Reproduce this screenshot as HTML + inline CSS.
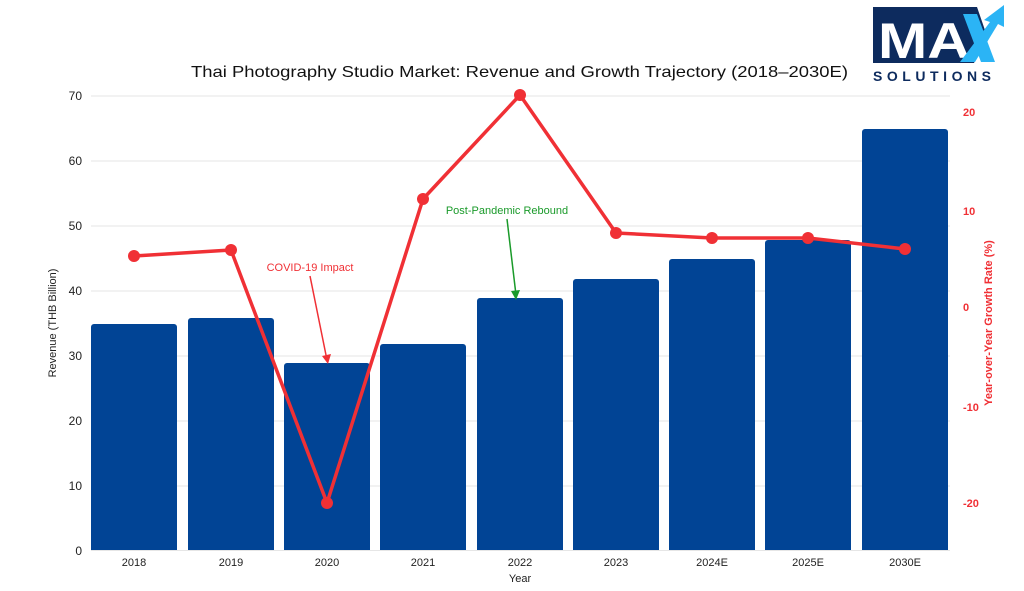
<!DOCTYPE html><html><head><meta charset="utf-8"><style>body{margin:0;background:#fff}svg{display:block}text{font-family:"Liberation Sans",sans-serif}</style></head><body>
<svg width="1024" height="591" viewBox="0 0 1024 591">
<g stroke="#e6e6e6" stroke-width="1">
<line x1="91" x2="950" y1="96" y2="96"/><line x1="91" x2="950" y1="161" y2="161"/><line x1="91" x2="950" y1="226" y2="226"/><line x1="91" x2="950" y1="291" y2="291"/><line x1="91" x2="950" y1="356" y2="356"/><line x1="91" x2="950" y1="421" y2="421"/><line x1="91" x2="950" y1="486" y2="486"/><line x1="91" x2="950" y1="550.5" y2="550.5"/>
</g>
<g font-size="12" fill="#222" text-anchor="end">
<text x="82" y="100">70</text><text x="82" y="165">60</text><text x="82" y="230">50</text><text x="82" y="295">40</text><text x="82" y="360">30</text><text x="82" y="425">20</text><text x="82" y="490">10</text><text x="82" y="555">0</text>
</g>
<g font-size="11" fill="#f03035" font-weight="bold" text-anchor="start">
<text x="963" y="116">20</text><text x="963" y="215">10</text><text x="963" y="311">0</text><text x="963" y="411">-10</text><text x="963" y="507">-20</text>
</g>
<text transform="translate(56,323) rotate(-90)" font-size="11" fill="#222" text-anchor="middle">Revenue (THB Billion)</text>
<text transform="translate(992,323) rotate(-90)" font-size="11" fill="#f03035" font-weight="bold" text-anchor="middle">Year-over-Year Growth Rate (%)</text>
<text x="520" y="582" font-size="11" fill="#222" text-anchor="middle">Year</text>
<text x="191" y="77" font-size="16" fill="#111" textLength="657" lengthAdjust="spacingAndGlyphs">Thai Photography Studio Market: Revenue and Growth Trajectory (2018–2030E)</text>
<g fill="#014495">
<path d="M91,550V327a3,3 0 0 1 3,-3H174a3,3 0 0 1 3,3V550Z"/>
<path d="M188,550V321a3,3 0 0 1 3,-3H271a3,3 0 0 1 3,3V550Z"/>
<path d="M284,550V366a3,3 0 0 1 3,-3H367a3,3 0 0 1 3,3V550Z"/>
<path d="M380,550V347a3,3 0 0 1 3,-3H463a3,3 0 0 1 3,3V550Z"/>
<path d="M477,550V301a3,3 0 0 1 3,-3H560a3,3 0 0 1 3,3V550Z"/>
<path d="M573,550V282a3,3 0 0 1 3,-3H656a3,3 0 0 1 3,3V550Z"/>
<path d="M669,550V262a3,3 0 0 1 3,-3H752a3,3 0 0 1 3,3V550Z"/>
<path d="M765,550V243a3,3 0 0 1 3,-3H848a3,3 0 0 1 3,3V550Z"/>
<path d="M862,550V132a3,3 0 0 1 3,-3H945a3,3 0 0 1 3,3V550Z"/>
</g>
<g font-size="11" fill="#222" text-anchor="middle">
<text x="134" y="566">2018</text><text x="231" y="566">2019</text><text x="327" y="566">2020</text><text x="423" y="566">2021</text><text x="520" y="566">2022</text><text x="616" y="566">2023</text><text x="712" y="566">2024E</text><text x="808" y="566">2025E</text><text x="905" y="566">2030E</text>
</g>
<polyline points="134,256 231,250 327,503 423,199 520,95 616,233 712,238 808,238 905,249" fill="none" stroke="#f03035" stroke-width="3.5" stroke-linejoin="round"/>
<g fill="#f03035"><circle cx="134" cy="256" r="6"/><circle cx="231" cy="250" r="6"/><circle cx="327" cy="503" r="6"/><circle cx="423" cy="199" r="6"/><circle cx="520" cy="95" r="6"/><circle cx="616" cy="233" r="6"/><circle cx="712" cy="238" r="6"/><circle cx="808" cy="238" r="6"/><circle cx="905" cy="249" r="6"/></g>
<text x="310" y="271" font-size="11" fill="#f03035" text-anchor="middle">COVID-19 Impact</text>
<line x1="310" y1="276" x2="327" y2="360" stroke="#f03035" stroke-width="1.5"/><path d="M322,356 L328,364 L331,354Z" fill="#f03035"/>
<text x="507" y="214" font-size="11" fill="#1a9a2a" text-anchor="middle">Post-Pandemic Rebound</text>
<line x1="507" y1="219" x2="516" y2="295" stroke="#1a9a2a" stroke-width="1.5"/><path d="M511,291 L516,300 L520,290Z" fill="#1a9a2a"/>
<g>
<path d="M873,7H977L987,36L974,63H873Z" fill="#0d2b5e"/>
<text x="878" y="58" font-size="50" font-weight="bold" fill="#fff" textLength="92" lengthAdjust="spacingAndGlyphs">MA</text>
<path d="M960,62L990,22L984,20L1004,5L1004,27L998,24L975,62Z" fill="#2bb4f5"/>
<path d="M963,14L977,14L995,62H981Z" fill="#2bb4f5"/>
<text x="873" y="81" font-size="14" font-weight="bold" fill="#0d2b5e" textLength="118" lengthAdjust="spacing">SOLUTIONS</text>
</g>
</svg></body></html>
